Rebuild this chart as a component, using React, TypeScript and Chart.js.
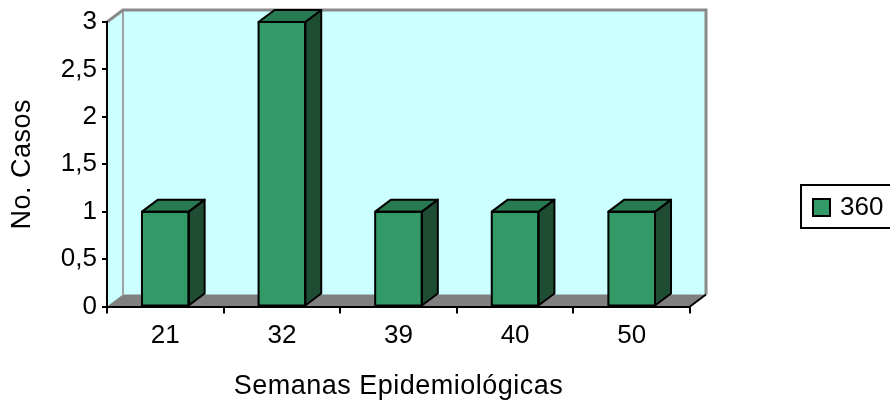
import { useEffect, useRef } from 'react';
import { Chart, registerables } from 'chart.js';

Chart.register(...registerables);

const categories = ['21', '32', '39', '40', '50'];
const seriesLabel = '360';
const seriesValues = [1, 3, 1, 1, 1];
const yTickValues = [0, 0.5, 1, 1.5, 2, 2.5, 3];
const xTitle = 'Semanas Epidemiológicas';
const yTitle = 'No. Casos';

const FONT = '"Liberation Sans", Arial, Helvetica, sans-serif';
const DX = 16;
const DY = 12;
const FRONT = '#339966';
const TOPC = '#287A50';
const SIDE = '#1E4D33';

const threeD = {
  id: 'threeD',
  beforeDraw(chart: any) {
    const ctx = chart.ctx as CanvasRenderingContext2D;
    const { left, right, top, bottom } = chart.chartArea;
    ctx.save();
    ctx.fillStyle = '#FFFFFF';
    ctx.fillRect(0, 0, chart.width, chart.height);
    ctx.fillStyle = '#CCFFFF';
    ctx.beginPath();
    ctx.moveTo(left, top);
    ctx.lineTo(left + DX, top - DY);
    ctx.lineTo(right + DX, top - DY);
    ctx.lineTo(right + DX, bottom - DY);
    ctx.lineTo(left, bottom);
    ctx.closePath();
    ctx.fill();
    ctx.fillStyle = '#808080';
    ctx.beginPath();
    ctx.moveTo(left, bottom);
    ctx.lineTo(right, bottom);
    ctx.lineTo(right + DX, bottom - DY);
    ctx.lineTo(left + DX, bottom - DY);
    ctx.closePath();
    ctx.fill();
    ctx.strokeStyle = '#A0A0A0';
    ctx.lineWidth = 2;
    ctx.beginPath();
    ctx.moveTo(left + DX, top - DY);
    ctx.lineTo(left + DX, bottom - DY);
    ctx.stroke();
    ctx.strokeStyle = '#8A8A8A';
    ctx.lineWidth = 3;
    ctx.beginPath();
    ctx.moveTo(left, top);
    ctx.lineTo(left + DX, top - DY);
    ctx.lineTo(right + DX, top - DY);
    ctx.lineTo(right + DX, bottom - DY);
    ctx.stroke();
    ctx.strokeStyle = '#000000';
    ctx.lineWidth = 2;
    ctx.beginPath();
    ctx.moveTo(right, bottom);
    ctx.lineTo(right + DX, bottom - DY);
    ctx.stroke();
    ctx.restore();
    (ctx as any).letterSpacing = '0.5px';
  },
  beforeDatasetsDraw(chart: any) {
    (chart.ctx as any).letterSpacing = '0px';
  },
  afterDatasetsDraw(chart: any) {
    const ctx = chart.ctx as CanvasRenderingContext2D;
    const meta = chart.getDatasetMeta(0);
    ctx.save();
    ctx.strokeStyle = '#000';
    ctx.lineWidth = 2;
    ctx.lineJoin = 'round';
    meta.data.forEach((el: any) => {
      const w = el.width;
      const l = el.x - w / 2;
      const r = el.x + w / 2;
      const y = el.y;
      const b = el.base;
      ctx.fillStyle = SIDE;
      ctx.beginPath();
      ctx.moveTo(r, y);
      ctx.lineTo(r + DX, y - DY);
      ctx.lineTo(r + DX, b - DY);
      ctx.lineTo(r, b);
      ctx.closePath();
      ctx.fill();
      ctx.stroke();
      ctx.fillStyle = TOPC;
      ctx.beginPath();
      ctx.moveTo(l, y);
      ctx.lineTo(l + DX, y - DY);
      ctx.lineTo(r + DX, y - DY);
      ctx.lineTo(r, y);
      ctx.closePath();
      ctx.fill();
      ctx.stroke();
      ctx.strokeRect(l, y, w, b - y);
    });
    ctx.restore();
  },
  afterDraw(chart: any) {
    const ctx = chart.ctx as CanvasRenderingContext2D;
    const ds = chart.data.datasets[0];
    ctx.save();
    (ctx as any).letterSpacing = '0px';
    ctx.strokeStyle = '#000';
    ctx.lineWidth = 2;
    ctx.fillStyle = '#FFFFFF';
    ctx.fillRect(801, 185, 100, 43);
    ctx.strokeRect(801, 185, 100, 43);
    ctx.fillStyle = ds.backgroundColor;
    ctx.fillRect(813, 199, 17, 17);
    ctx.strokeRect(813, 199, 17, 17);
    ctx.fillStyle = '#000';
    ctx.font = `26px ${FONT}`;
    ctx.textBaseline = 'middle';
    ctx.textAlign = 'left';
    ctx.fillText(ds.label, 840, 208);
    ctx.restore();
  },
};

export default function App() {
  const ref = useRef<HTMLCanvasElement | null>(null);
  useEffect(() => {
    if (!ref.current) return;
    const chart = new Chart(ref.current, {
      type: 'bar',
      data: {
        labels: categories,
        datasets: [
          {
            label: seriesLabel,
            data: seriesValues,
            backgroundColor: FRONT,
            borderColor: '#000',
            borderWidth: 0,
            barPercentage: 0.4,
            categoryPercentage: 1,
          },
        ],
      },
      options: {
        responsive: false,
        animation: false,
        layout: { padding: { left: 0, right: 200, top: 22, bottom: 0 } },
        plugins: { legend: { display: false }, tooltip: { enabled: false } },
        scales: {
          x: {
            type: 'category',
            offset: true,
            grid: {
              offset: true,
              drawOnChartArea: false,
              drawTicks: true,
              tickLength: 7,
              color: '#000',
              lineWidth: 2,
            },
            border: { display: true, color: '#000', width: 2 },
            ticks: { z: 1, color: '#000', padding: 7, font: { family: FONT, size: 26 } },
            title: {
              display: true,
              text: xTitle,
              color: '#000',
              font: { family: FONT, size: 27 },
              padding: { top: 0, bottom: 2 },
            },
            afterFit: (s: any) => {
              s.height = 98.5;
            },
          },
          y: {
            min: 0,
            max: 3,
            grid: {
              drawOnChartArea: false,
              drawTicks: true,
              tickLength: 5,
              color: '#000',
              lineWidth: 2,
            },
            border: { display: true, color: '#000', width: 2 },
            ticks: {
              z: 1,
              color: '#000',
              padding: 5,
              font: { family: FONT, size: 26 },
              callback: (v: any) => String(v).replace('.', ','),
            },
            afterBuildTicks: (s: any) => {
              s.ticks = yTickValues.map((v) => ({ value: v }));
            },
            title: {
              display: true,
              text: yTitle,
              color: '#000',
              font: { family: FONT, size: 27 },
              padding: { top: 6, bottom: 0 },
            },
            afterFit: (s: any) => {
              s.width = 107;
            },
          },
        },
      },
      plugins: [threeD],
    });
    return () => chart.destroy();
  }, []);
  return (
    <div style={{ position: 'fixed', left: 0, top: 0, width: 890, height: 405 }}>
      <canvas ref={ref} width={890} height={405} />
    </div>
  );
}
